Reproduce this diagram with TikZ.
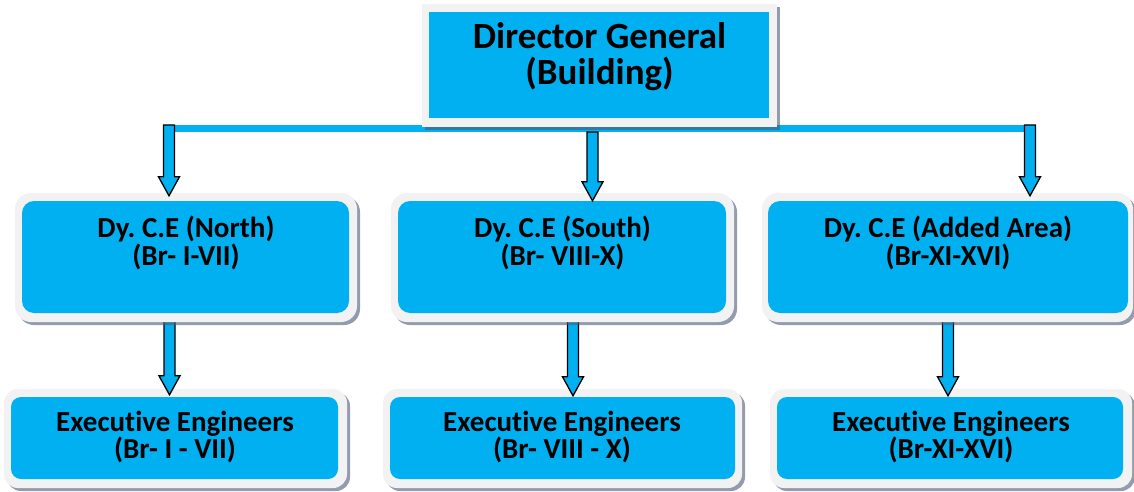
\documentclass[tikz,border=0pt]{standalone}
\usepackage{fontspec}
\setmainfont{Carlito}[Ligatures=NoCommon]
\frenchspacing
\usetikzlibrary{shadows,calc}
\definecolor{boxblue}{HTML}{00B0F0}
\definecolor{framec}{HTML}{F2F2F2}
\definecolor{shadc}{HTML}{4A5A78}
\tikzset{
  outerbox/.style={fill=framec, draw=none, inner sep=0pt, rounded corners=#1,
    drop shadow={shadow xshift=3pt, shadow yshift=-3pt, fill=shadc, opacity=0.6}},
  innerbox/.style={fill=boxblue, draw=none, inner sep=0pt, rounded corners=#1},
  txt/.style={font=\bfseries\fontsize{29}{27.5}\selectfont, align=center, inner sep=0pt, text=black},
  bigtxt/.style={font=\bfseries\fontsize{37}{36}\selectfont, align=center, inner sep=0pt, text=black},
  arrowsty/.style={fill=boxblue, draw=black, line width=1.3pt, line join=miter},
  barsty/.style={draw=boxblue, line width=7pt}
}
\newcommand\blockarrow[2]{%
  \draw[arrowsty] let \p1=(#1), \p2=(#2) in
    (\x1-5.5pt,\y1) -- (\x1-5.5pt,\y2+19pt) -- (\x1-10.5pt,\y2+19pt) -- (\x1,\y2)
    -- (\x1+10.5pt,\y2+19pt) -- (\x1+5.5pt,\y2+19pt) -- (\x1+5.5pt,\y1) -- cycle;}
\begin{document}
\begin{tikzpicture}[x=1pt,y=-1pt]
\useasboundingbox (0,0) rectangle (1134,492);

% bar
\coordinate (bl) at (169,128.5);
\coordinate (br) at (1030,128.5);
\draw[barsty] (bl) -- (br);

% Director General
\node[outerbox=0pt, minimum width=355pt, minimum height=123pt] (dgo) at (599.5,65.5) {};
\node[innerbox=0pt, minimum width=340pt, minimum height=106pt] (dgi) at (599,65) {};
\node[bigtxt] (dgt) at (599.5,57) {Director General\\(Building)};

% Executive Engineers boxes
\node[outerbox=14pt, minimum width=343pt, minimum height=99pt] (eeNo) at (175.5,438.5) {};
\node[innerbox=10pt, minimum width=327pt, minimum height=82pt] (eeNi) at (174.5,438) {};
\node[txt] (eeNt) at (175,437) {Executive Engineers\\(Br- I - VII)};

\node[outerbox=14pt, minimum width=359pt, minimum height=99pt] (eeMo) at (562.5,438.5) {};
\node[innerbox=10pt, minimum width=345pt, minimum height=82pt] (eeMi) at (562.5,438) {};
\node[txt] (eeMt) at (562,437) {Executive Engineers\\(Br- VIII - X)};

\node[outerbox=14pt, minimum width=362pt, minimum height=99pt] (eeRo) at (951,438.5) {};
\node[innerbox=10pt, minimum width=346pt, minimum height=82pt] (eeRi) at (950,438) {};
\node[txt] (eeRt) at (951,437) {Executive Engineers\\(Br-XI-XVI)};

% lower arrows
\coordinate (lN) at (169.5,318);
\coordinate (lM) at (573,318);
\coordinate (lR) at (948,318);
\blockarrow{lN}{[yshift=-6pt]eeNo.north}
\blockarrow{lM}{[yshift=-7pt]eeMo.north}
\blockarrow{lR}{[yshift=-7pt]eeRo.north}

% Dy. C.E boxes
\node[outerbox=16pt, minimum width=342pt, minimum height=129pt] (dyNo) at (186,257.5) {};
\node[innerbox=12pt, minimum width=327pt, minimum height=112pt] (dyNi) at (185.5,257) {};
\node[txt] (dyNt) at (186,243) {Dy. C.E (North)\\(Br- I-VII)};

\node[outerbox=16pt, minimum width=343pt, minimum height=129pt] (dySo) at (562.5,257.5) {};
\node[innerbox=12pt, minimum width=328pt, minimum height=112pt] (dySi) at (562,257) {};
\node[txt] (dySt) at (562.5,243) {Dy. C.E (South)\\(Br- VIII-X)};

\node[outerbox=16pt, minimum width=371pt, minimum height=129pt] (dyAo) at (947.5,257.5) {};
\node[innerbox=12pt, minimum width=360pt, minimum height=112pt] (dyAi) at (948,257) {};
\node[txt] (dyAt) at (948,243) {Dy. C.E (Added Area)\\(Br-XI-XVI)};

% top arrows
\coordinate (tN) at (169,125);
\coordinate (tM) at (592.5,132);
\coordinate (tR) at (1030,125);
\blockarrow{tN}{[yshift=-3pt]dyNo.north}
\blockarrow{tM}{[yshift=-8pt]dySo.north}
\blockarrow{tR}{[yshift=-3pt]dyAo.north}
\end{tikzpicture}
\end{document}
